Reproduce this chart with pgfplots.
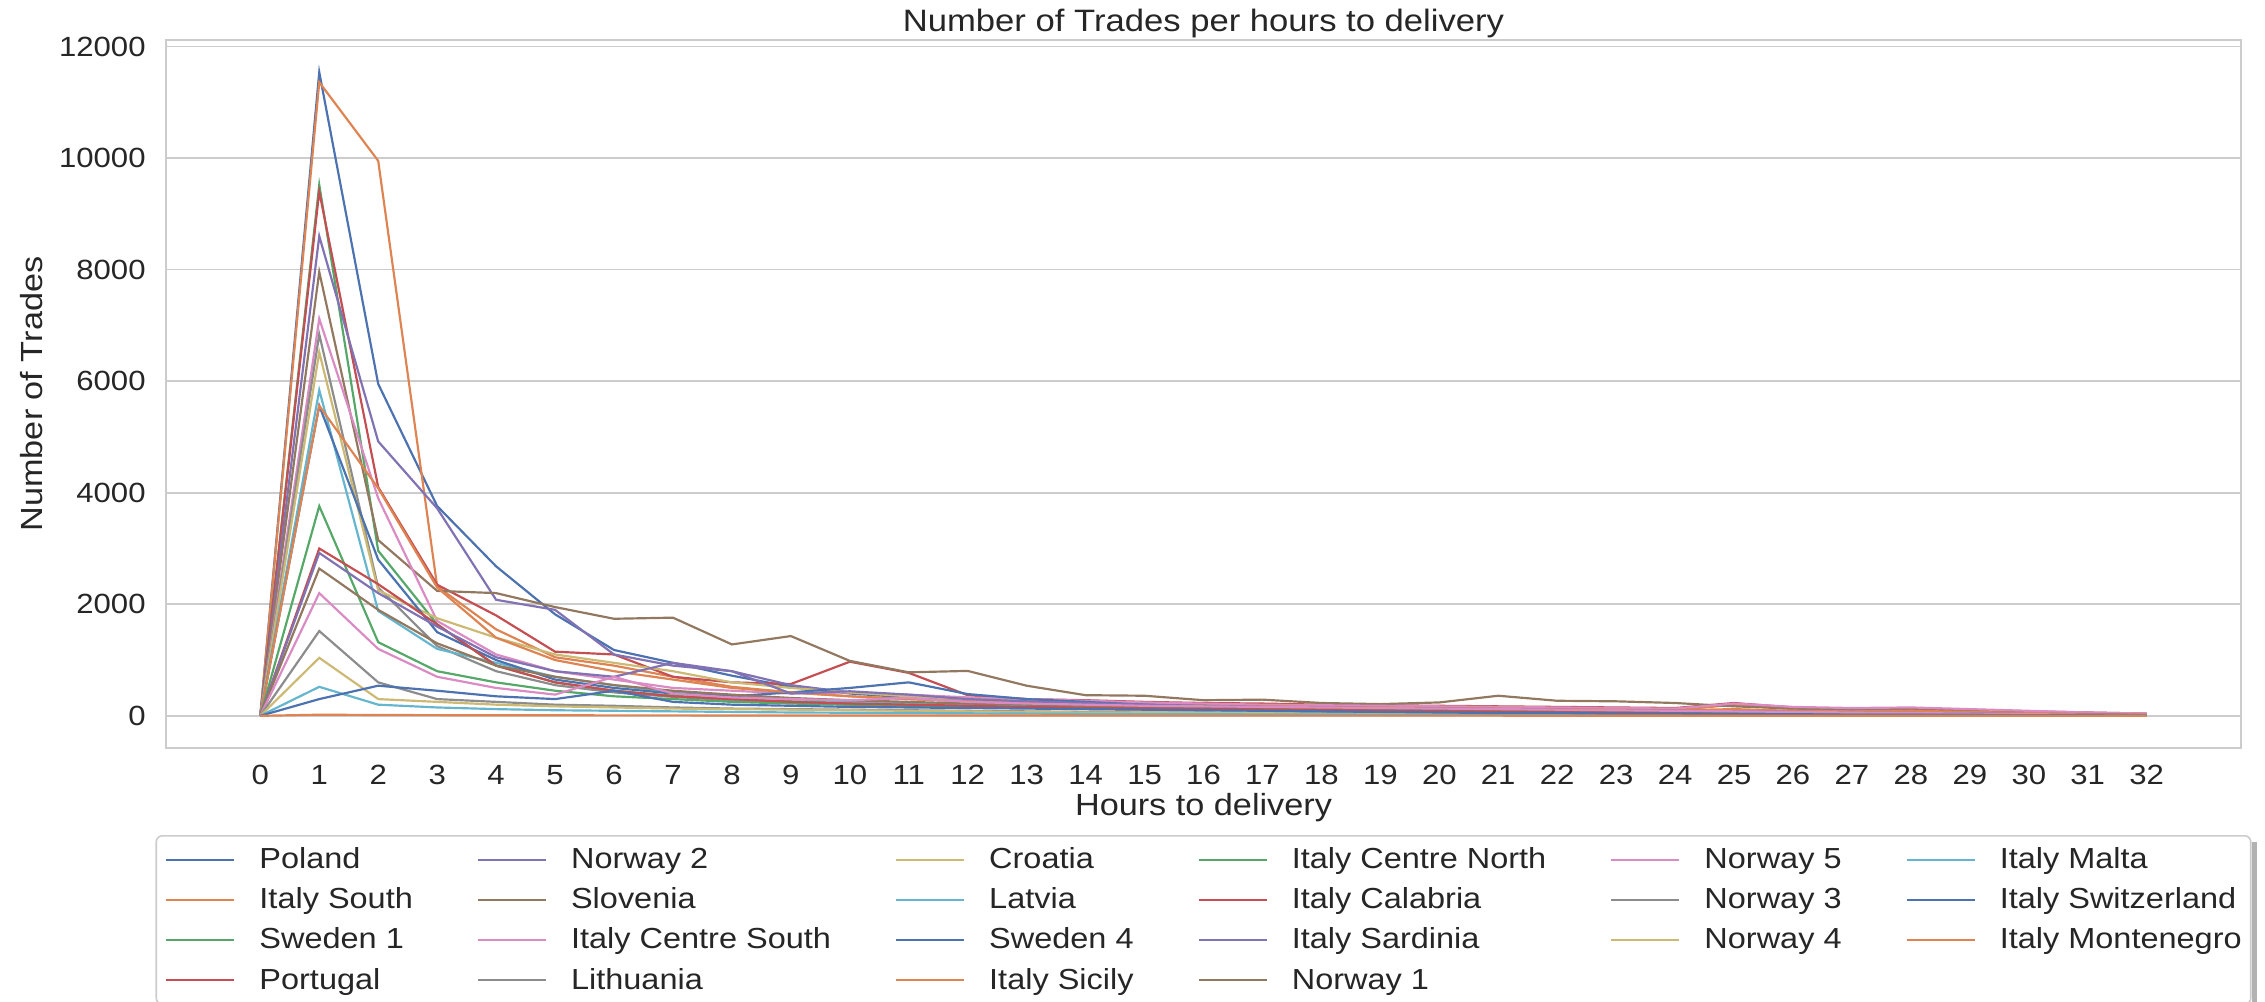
\documentclass[border=0pt]{standalone}
\usepackage{pgfplots}
\pgfplotsset{compat=1.18}
\usepackage{pgfplotstable}
\usepackage{fontspec}
\setmainfont{Liberation Sans}[FakeStretch=1.12]

\definecolor{c0}{HTML}{4C72B0}
\definecolor{c1}{HTML}{DD8452}
\definecolor{c2}{HTML}{55A868}
\definecolor{c3}{HTML}{C44E52}
\definecolor{c4}{HTML}{8172B3}
\definecolor{c5}{HTML}{937860}
\definecolor{c6}{HTML}{DA8BC3}
\definecolor{c7}{HTML}{8C8C8C}
\definecolor{c8}{HTML}{CCB974}
\definecolor{c9}{HTML}{64B5CD}
\definecolor{gridc}{HTML}{CCCCCC}
\definecolor{txt}{HTML}{262626}

% columns: s1 Poland, s2 Italy South, s3 Sweden 1, s4 Portugal, s5 Norway 2, s6 Slovenia,
% s7 Italy Centre South, s8 Lithuania, s9 Croatia, s10 Latvia, s11 Sweden 4, s12 Italy Sicily,
% s13 Italy Centre North, s14 Italy Calabria, s15 Italy Sardinia, s16 Norway 1, s17 Norway 5,
% s18 Norway 3, s19 Norway 4, s20 Italy Malta, s21 Italy Switzerland, s22 Italy Montenegro
\pgfplotstableread{
h s1 s2 s3 s4 s5 s6 s7 s8 s9 s10 s11 s12 s13 s14 s15 s16 s17 s18 s19 s20 s21 s22
0 0 0 0 0 0 0 0 0 0 0 0 0 0 0 0 0 0 0 0 0 0 0
1 11540 11360 9520 9400 8600 7960 7120 6840 6520 5840 5560 5560 3760 3000 2920 2640 2200 1520 1040 520 300 20
2 5950 9950 2960 4100 4920 3150 3900 2300 2250 1880 2800 4080 1320 2360 2200 1900 1200 600 300 200 540 15
3 3760 2320 1640 2350 3720 2240 1700 1250 1750 1200 1500 2300 800 1640 1600 1300 700 300 250 150 450 12
4 2680 1550 900 1800 2080 2200 1100 800 1400 950 1000 1400 600 900 1050 900 500 250 200 120 350 10
5 1820 1050 600 1150 1900 1950 800 550 1100 700 650 1000 450 600 800 700 380 200 170 100 300 10
6 1180 900 450 1100 1100 1740 650 420 950 550 500 800 350 450 700 550 700 180 150 90 450 8
7 950 700 360 700 900 1760 500 340 800 420 400 650 300 350 950 450 400 150 130 80 250 8
8 720 520 300 600 800 1280 450 280 600 350 350 500 250 300 800 380 330 130 120 70 200 6
9 520 420 260 570 550 1430 400 240 500 300 420 420 220 250 400 320 300 120 110 60 180 6
10 400 350 230 970 420 985 420 200 420 260 500 350 200 220 440 280 280 110 100 55 160 5
11 330 300 200 770 350 780 380 180 350 220 600 300 180 200 380 250 320 100 90 50 150 5
12 300 260 180 370 300 805 330 160 300 190 390 260 160 180 300 220 250 90 80 45 140 5
13 260 230 160 300 260 540 300 140 260 170 300 230 150 160 260 200 220 80 70 40 130 5
14 240 200 150 280 230 370 270 120 230 150 250 210 140 150 230 180 200 70 60 35 120 4
15 200 180 140 250 210 360 240 110 200 130 200 190 130 140 200 170 180 60 60 30 110 4
16 180 170 130 230 190 280 220 100 180 120 150 180 120 130 180 160 170 60 50 30 100 4
17 170 160 120 220 180 290 200 90 170 110 120 170 110 120 160 150 160 50 50 25 90 3
18 150 150 110 200 160 230 190 80 150 100 100 160 100 110 150 140 150 50 40 25 80 3
19 140 140 100 190 150 210 180 80 140 90 90 150 100 100 140 130 140 40 40 20 70 3
20 130 130 100 180 140 240 170 70 130 80 80 140 90 90 130 120 130 40 40 20 60 3
21 120 120 90 170 130 360 160 60 120 70 70 130 90 90 120 110 120 40 30 20 50 3
22 110 120 90 160 120 270 150 60 110 60 60 120 80 80 110 100 110 30 30 15 50 2
23 100 110 80 150 110 260 140 50 100 60 60 110 80 70 100 90 100 30 30 15 40 2
24 90 100 70 140 100 230 130 50 90 50 50 100 70 70 90 80 90 30 20 15 40 2
25 80 200 60 230 90 170 220 40 80 40 40 120 60 60 80 70 80 20 20 10 30 2
26 70 120 50 150 80 130 160 40 70 40 40 90 50 50 70 60 70 20 20 10 30 2
27 60 100 40 120 70 110 140 30 60 30 30 80 40 40 60 50 60 20 20 10 20 2
28 55 110 40 130 60 100 150 30 50 30 30 90 40 40 50 40 50 20 10 10 20 1
29 50 90 30 110 50 90 120 20 40 20 20 70 30 30 40 40 40 10 10 10 20 1
30 40 60 30 80 40 70 90 20 30 20 20 50 30 20 30 30 30 10 10 5 10 1
31 30 40 20 60 30 50 60 10 20 10 10 35 20 20 20 20 20 10 10 5 10 1
32 20 25 10 40 20 30 40 10 15 10 10 20 10 10 15 10 10 5 5 5 5 1
}\trades

\begin{document}
\begin{tikzpicture}
\begin{axis}[
  at={(0,0)}, anchor=south west,
  scale only axis, width=20.75cm, height=7.08cm,
  xmin=-1.6, xmax=33.6, ymin=-577, ymax=12117,
  xtick={0,1,...,32}, ytick={0,2000,4000,6000,8000,10000,12000},
  scaled y ticks=false,
  /pgf/number format/1000 sep={},
  /pgf/number format/assume math mode=true,
  major tick length=0pt, tick style={draw=none},
  ymajorgrids=true, xmajorgrids=false,
  grid style={line width=0.45pt, color=gridc},
  axis line style={line width=0.45pt, color=gridc},
  ticklabel style={font=\fontsize{7.9}{9.5}\selectfont, text=txt},
  xticklabel style={yshift=-0.05cm},
  yticklabel style={xshift=-0.08cm},
  xlabel={Hours to delivery},
  ylabel={Number of Trades},
  title={Number of Trades per hours to delivery},
  every axis title shift=0pt,
  label style={font=\fontsize{8.7}{10.4}\selectfont, text=txt},
  xlabel style={at={(axis description cs:0.5,0)}, anchor=base, yshift=-0.67cm},
  ylabel style={at={(axis description cs:-0.0593,0.5)}, anchor=base},
  title style={font=\fontsize{8.8}{10.5}\selectfont, text=txt, at={(axis description cs:0.5,1)}, anchor=base, yshift=0.08cm},
  every axis plot/.append style={line width=0.62pt, no markers},
  legend columns=6,
  legend cell align=left,
  legend image code/.code={\draw[#1, line width=0.62pt] (0cm,0cm) -- (0.68cm,0cm);},
  legend style={
    name=leg,
    at={(0.5,-0.1229)}, anchor=north,
    font=\fontsize{8.25}{9.9}\selectfont, text=txt,
    draw=gridc, line width=0.45pt, fill=white, rounded corners=0.06cm,
    inner xsep=0.09cm, inner ysep=0.075cm,
    row sep=0.075cm,
    nodes={inner sep=0pt, text height=0.72em, text depth=0.21em},
    /tikz/every odd column/.append style={column sep=0.24cm},
    /tikz/every even column/.append style={column sep=0.64cm},
  },
]
\addplot[c0, forget plot] table[x=h, y=s1] {\trades};
\addplot[c1, forget plot] table[x=h, y=s2] {\trades};
\addplot[c2, forget plot] table[x=h, y=s3] {\trades};
\addplot[c3, forget plot] table[x=h, y=s4] {\trades};
\addplot[c4, forget plot] table[x=h, y=s5] {\trades};
\addplot[c5, forget plot] table[x=h, y=s6] {\trades};
\addplot[c6, forget plot] table[x=h, y=s7] {\trades};
\addplot[c7, forget plot] table[x=h, y=s8] {\trades};
\addplot[c8, forget plot] table[x=h, y=s9] {\trades};
\addplot[c9, forget plot] table[x=h, y=s10] {\trades};
\addplot[c0, forget plot] table[x=h, y=s11] {\trades};
\addplot[c1, forget plot] table[x=h, y=s12] {\trades};
\addplot[c2, forget plot] table[x=h, y=s13] {\trades};
\addplot[c3, forget plot] table[x=h, y=s14] {\trades};
\addplot[c4, forget plot] table[x=h, y=s15] {\trades};
\addplot[c5, forget plot] table[x=h, y=s16] {\trades};
\addplot[c6, forget plot] table[x=h, y=s17] {\trades};
\addplot[c7, forget plot] table[x=h, y=s18] {\trades};
\addplot[c8, forget plot] table[x=h, y=s19] {\trades};
\addplot[c9, forget plot] table[x=h, y=s20] {\trades};
\addplot[c0, forget plot] table[x=h, y=s21] {\trades};
\addplot[c1, forget plot] table[x=h, y=s22] {\trades};
% legend, row by row (matplotlib fills column by column)
\addlegendimage{c0}\addlegendentry{Poland}
\addlegendimage{c4}\addlegendentry{Norway 2}
\addlegendimage{c8}\addlegendentry{Croatia}
\addlegendimage{c2}\addlegendentry{Italy Centre North}
\addlegendimage{c6}\addlegendentry{Norway 5}
\addlegendimage{c9}\addlegendentry{Italy Malta}
\addlegendimage{c1}\addlegendentry{Italy South}
\addlegendimage{c5}\addlegendentry{Slovenia}
\addlegendimage{c9}\addlegendentry{Latvia}
\addlegendimage{c3}\addlegendentry{Italy Calabria}
\addlegendimage{c7}\addlegendentry{Norway 3}
\addlegendimage{c0}\addlegendentry{Italy Switzerland}
\addlegendimage{c2}\addlegendentry{Sweden 1}
\addlegendimage{c6}\addlegendentry{Italy Centre South}
\addlegendimage{c0}\addlegendentry{Sweden 4}
\addlegendimage{c4}\addlegendentry{Italy Sardinia}
\addlegendimage{c8}\addlegendentry{Norway 4}
\addlegendimage{c1}\addlegendentry{Italy Montenegro}
\addlegendimage{c3}\addlegendentry{Portugal}
\addlegendimage{c7}\addlegendentry{Lithuania}
\addlegendimage{c1}\addlegendentry{Italy Sicily}
\addlegendimage{c5}\addlegendentry{Norway 1}
\end{axis}
% legend shadow strip on the right edge (the bottom edge lies below the picture)
\fill[black, opacity=0.3] ([yshift=-0.07cm]leg.north east) rectangle ([xshift=0.055cm,yshift=-0.07cm]leg.south east);
\pgfresetboundingbox
\useasboundingbox (-1.66cm,-2.53cm) rectangle (20.99cm,7.48cm);
\end{tikzpicture}
\end{document}
